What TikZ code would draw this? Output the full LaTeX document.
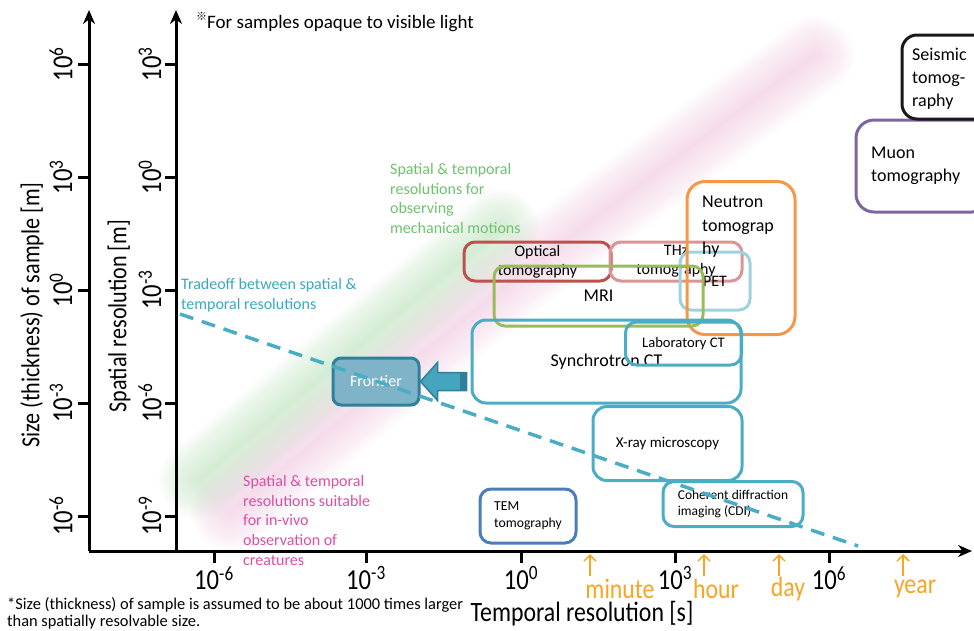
\documentclass[tikz,border=0pt]{standalone}
\usepackage{fontspec}
\setmainfont{Carlito}
\newfontfamily\narrowfont[FakeStretch=0.85]{Carlito}
\newfontfamily\cjkfont{Noto Sans CJK JP}
\usetikzlibrary{arrows.meta}

\definecolor{optred}{HTML}{C0504D}
\definecolor{thzred}{HTML}{D99694}
\definecolor{petblue}{HTML}{9DD3E0}
\definecolor{mrigreen}{HTML}{9BBB59}
\definecolor{neutorange}{HTML}{F79646}
\definecolor{ctteal}{HTML}{4BACC6}
\definecolor{temblue}{HTML}{4A7EBB}
\definecolor{muonpurple}{HTML}{8064A2}
\definecolor{frontfill}{HTML}{7EB3C8}
\definecolor{frontedge}{HTML}{2F8099}
\definecolor{arrteal}{HTML}{45A4BE}
\definecolor{greentxt}{HTML}{6EC26E}
\definecolor{pinktxt}{HTML}{DA4FA6}
\definecolor{tealtxt}{HTML}{3DA7C2}
\definecolor{timeorange}{HTML}{F8A524}
\definecolor{bandgreen}{HTML}{8CCB8C}
\definecolor{bandpink}{HTML}{E4A0C8}

\begin{document}
\begin{tikzpicture}[x=1pt, y=-1pt,
  tbox/.style={rectangle, draw, rounded corners=11pt, line width=3pt, inner sep=0pt,
    align=center, font=\fontsize{18}{22}\selectfont},
  boxtxt/.style={inner sep=0pt, align=left, font=\fontsize{18}{23.5}\selectfont},
  frontbox/.style={rectangle, draw=frontedge, fill=frontfill, rounded corners=8pt, line width=3pt,
    minimum width=86pt, minimum height=47pt, text=white, font=\fontsize{16}{19}\selectfont},
  blockarr/.style={draw=frontedge, fill=arrteal, line width=1.5pt, line join=miter},
  notetxt/.style={inner sep=0pt, align=left, anchor=north west, font=\fontsize{16}{19.7}\selectfont},
  axis/.style={line width=3pt, -{Stealth[length=14pt, width=12pt]}},
  tick/.style={line width=3pt},
  ticklab/.style={inner sep=0pt, font=\narrowfont\fontsize{29}{30}\selectfont},
  axtitle/.style={inner sep=0pt, font=\narrowfont\fontsize{26}{30}\selectfont},
  timearr/.style={draw=timeorange, line width=1.5pt, -{Straight Barb[length=6pt, width=12pt]}},
  timelab/.style={inner sep=0pt, text=timeorange, font=\narrowfont\fontsize{28}{30}\selectfont},
  tradeoff/.style={draw=ctteal, line width=3.5pt, dash pattern=on 14pt off 9pt},
  band/.style={line cap=round, opacity=0.012}
]
  \useasboundingbox (0,0) rectangle (974,630);
  \clip (0,0) rectangle (974,630);

  % diagonal bands
  \foreach \w in {2,4,...,80} {
    \draw[band, bandgreen, line width=\w pt] (198,480) -- (500,228);
    \draw[band, bandpink, line width=\w pt] (230,512) .. controls (520,272) .. (815,55);
  }

  \node[notetxt, text=greentxt] (mech) at (390,163)
    {Spatial \& temporal\\resolutions for\\observing\\mechanical motions};
  \node[notetxt, text=tealtxt, font=\fontsize{16}{20}\selectfont] (tradetxt) at (181,278)
    {Tradeoff between spatial \&\\temporal resolutions};
  \node[notetxt, text=pinktxt] (vivo) at (243,475)
    {Spatial \& temporal\\resolutions suitable\\for in-vivo\\observation of\\creatures};
  \node[inner sep=0pt, anchor=west, font=\fontsize{19}{22}\selectfont] (opaque) at (196,22)
    {\raisebox{0.45em}{\cjkfont\fontsize{11}{11}\selectfont ※}For samples opaque to visible light};

  % methods
  \node[tbox, draw=optred, minimum width=147pt, minimum height=39pt,
    font=\fontsize{16}{19}\selectfont] (optical) at (537.5,261.5) {Optical\\tomography};
  \node[tbox, draw=thzred, minimum width=132pt, minimum height=39pt,
    font=\fontsize{16}{19}\selectfont] (thz) at (676,261.5) {THz\\tomography};
  \node[tbox, draw=petblue, minimum width=70pt, minimum height=58pt,
    font=\fontsize{16}{19}\selectfont] (pet) at (715,281) {PET};
  \node[tbox, draw=neutorange, rounded corners=18pt, minimum width=108pt,
    minimum height=153pt] (neutron) at (741,258) {};
  \node[boxtxt, anchor=west] (neuttxt) at (702,227) {Neutron\\tomograp\\hy};
  \node[tbox, draw=mrigreen, minimum width=209pt, minimum height=60pt] (mri) at (598.5,296) {MRI};
  \node[tbox, draw=ctteal, rounded corners=14pt, minimum width=269pt,
    minimum height=83pt] (synch) at (606.5,361.5) {Synchrotron CT};
  \node[tbox, draw=ctteal, minimum width=116pt, minimum height=43pt,
    font=\fontsize{14.6}{17}\selectfont] (labct) at (683.5,343.5) {Laboratory CT};
  \node[tbox, draw=ctteal, rounded corners=14pt, minimum width=149pt, minimum height=74pt,
    font=\fontsize{15}{18}\selectfont] (xray) at (667.5,443.5) {X-ray microscopy};
  \node[tbox, draw=ctteal, minimum width=140pt, minimum height=45pt, align=left,
    font=\fontsize{13.5}{16.5}\selectfont] (cdi) at (733,504) {Coherent diffraction\\imaging (CDI)};
  \node[tbox, draw=temblue, minimum width=96pt, minimum height=54pt, align=left,
    font=\fontsize{13.7}{17}\selectfont] (tem) at (528,516) {TEM\\tomography};
  \node[tbox, draw=muonpurple, rounded corners=18pt, minimum width=134pt,
    minimum height=92pt] (muon) at (923,166) {};
  \node[boxtxt] (muontxt) [anchor=west] at (871,166) {Muon\\tomography};
  \node[tbox, draw=black!90, rounded corners=15pt, minimum width=88pt,
    minimum height=84pt] (seismic) at (946,77) {};
  \node[boxtxt, font=\fontsize{18}{23}\selectfont] (seistxt) [anchor=west] at (912,79)
    {Seismic\\tomog-\\raphy};

  % frontier
  \node[frontbox] (frontier) at (376,381.5) {Frontier};
  \draw[blockarr] (frontier.east) -- ++(17,-19) -- ++(0,10) -- ++(29,0) -- ++(0,18)
    -- ++(-29,0) -- ++(0,10) -- cycle;
  \fill[frontedge] (frontier.east) ++(39,-9) rectangle ++(7,18);

  \coordinate (trade0) at (180,314);
  \coordinate (trade1) at (858,546);
  \draw[tradeoff] (trade0) -- (trade1);

  % axes
  \coordinate (origin) at (89,551);
  \coordinate (inner0) at (176,551);
  \draw[axis] (origin) -- (89,10);
  \draw[axis] (inner0) -- (176,10);
  \draw[axis] (origin) -- (972,551);

  \foreach \y/\a/\b [count=\i] in {64/6/3, 177/3/0, 290/0/-3, 403/-3/-6, 516/-6/-9} {
    \draw[tick] (78,\y) -- (89,\y);
    \draw[tick] (165,\y) -- (176,\y);
    \node[ticklab, rotate=90] (sizetk\i) at (61,\y) {10\textsuperscript{\a}};
    \node[ticklab, rotate=90] (restk\i) at (150,\y) {10\textsuperscript{\b}};
  }
  \foreach \x/\e [count=\i] in {214/-6, 366/-3, 521/0, 675/3, 829/6} {
    \draw[tick] (\x,551) -- (\x,563);
    \node[ticklab] (timetk\i) at (\x,578) {10\textsuperscript{\e}};
  }
  \foreach \x/\t/\lx [count=\i] in {590/minute/620, 704/hour/716, 779/day/788, 903/year/915} {
    \coordinate (ta\i) at (\x,576);
    \coordinate (tb\i) at (\x,554);
    \draw[timearr] (ta\i) -- (tb\i);
    \node[timelab] (unit\i) at (\lx,589) {\t};
  }

  \node[axtitle, rotate=90] (sizelab) at (32,315) {Size (thickness) of sample [m]};
  \node[axtitle, rotate=90] (reslab) at (119,316) {Spatial resolution [m]};
  \node[axtitle, font=\narrowfont\fontsize{28}{30}\selectfont] (timelab) at (582,614)
    {Temporal resolution [s]};

  \node[notetxt, font=\fontsize{16.4}{17.5}\selectfont] (footnote) at (7,597)
    {*Size (thickness) of sample is assumed to be about 1000 times larger\\than spatially resolvable size.};
\end{tikzpicture}
\end{document}
